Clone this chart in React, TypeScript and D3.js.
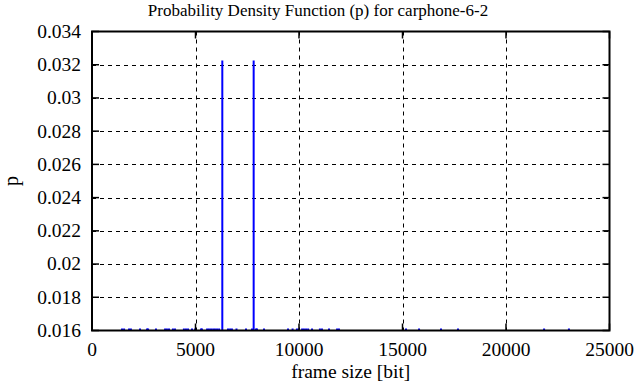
import { useEffect, useRef } from "react";
import * as d3 from "d3";

const TITLE = "Probability Density Function (p) for carphone-6-2";
const X_LABEL = "frame size [bit]";
const Y_LABEL = "p";

const xTicks = [0, 5000, 10000, 15000, 20000, 25000];
const yTicks = [0.016, 0.018, 0.02, 0.022, 0.024, 0.026, 0.028, 0.03, 0.032, 0.034];
const yTickLabels = ["0.016", "0.018", "0.02", "0.022", "0.024", "0.026", "0.028", "0.03", "0.032", "0.034"];

// frame sizes with a visible impulse (bit)
const frameSizes = [
  1450, 1550, 1790, 1880, 2320, 2660, 2710, 3090, 3530, 3620, 3720, 3910, 4010,
  4440, 4540, 4640, 4830, 4980, 5270, 5310, 5560, 5650, 5750, 5850, 5940, 6040,
  6140, 6295, 6570, 6670, 6760, 6980, 7440, 7730, 7810, 7920, 7970, 8310, 9470,
  9690, 9900, 9990, 10150, 10240, 10340, 10440, 10630, 11010, 11110, 11450,
  11840, 11930, 15170, 15800, 16860, 17680, 21840, 23040,
];
// probability per frame size
const pValues = [
  0.01612, 0.01612, 0.01612, 0.01612, 0.01612, 0.01612, 0.01612, 0.01612, 0.01612, 0.01612, 0.01612, 0.01612, 0.01612,
  0.01612, 0.01612, 0.01612, 0.01612, 0.01612, 0.01612, 0.01612, 0.01612, 0.01612, 0.01612, 0.01612, 0.01612, 0.01612,
  0.01612, 0.03225, 0.01612, 0.01612, 0.01612, 0.01612, 0.01612, 0.01612, 0.03225, 0.01612, 0.01612, 0.01612, 0.01612,
  0.01612, 0.01612, 0.01612, 0.01612, 0.01612, 0.01612, 0.01612, 0.01612, 0.01612, 0.01612, 0.01612,
  0.01612, 0.01612, 0.01612, 0.01612, 0.01612, 0.01612, 0.01612, 0.01612,
];

export default function App() {
  const ref = useRef<SVGSVGElement>(null);

  useEffect(() => {
    if (!ref.current) return;
    const width = 636;
    const height = 387;
    const m = { left: 92, right: 609.5, top: 31.5, bottom: 330.5 };
    const font = "'Liberation Serif', 'Times New Roman', serif";

    const svg = d3.select(ref.current);
    svg.selectAll("*").remove();

    const x = d3.scaleLinear().domain([0, 25000]).range([m.left, m.right]);
    const y = d3.scaleLinear().domain([0.016, 0.034]).range([m.bottom, m.top]);

    svg.append("rect").attr("width", width).attr("height", height).attr("fill", "#fff");

    // Grid
    const grid = svg.append("g").attr("stroke", "#000").attr("stroke-width", 1).attr("stroke-dasharray", "4,4");
    xTicks.slice(1, -1).forEach((t) => {
      grid.append("line")
        .attr("x1", Math.round(x(t)) + 0.5).attr("x2", Math.round(x(t)) + 0.5)
        .attr("y1", m.top).attr("y2", m.bottom);
    });
    yTicks.slice(1, -1).forEach((t) => {
      grid.append("line")
        .attr("x1", m.left).attr("x2", m.right)
        .attr("y1", Math.round(y(t)) + 0.5).attr("y2", Math.round(y(t)) + 0.5);
    });

    // Impulses
    svg.append("clipPath").attr("id", "plot-clip")
      .append("rect")
      .attr("x", m.left).attr("y", m.top)
      .attr("width", m.right - m.left).attr("height", m.bottom - m.top);

    svg.append("g").attr("clip-path", "url(#plot-clip)")
      .selectAll("line")
      .data(frameSizes.map((f, i) => ({ f, p: pValues[i] })))
      .enter()
      .append("line")
      .attr("x1", (d) => x(d.f)).attr("x2", (d) => x(d.f))
      .attr("y1", y(0.016)).attr("y2", (d) => y(d.p))
      .attr("stroke", "#0000ff")
      .attr("stroke-width", 2);

    // Ticks (inward, mirrored)
    const ticks = svg.append("g").attr("stroke", "#000").attr("stroke-width", 1.5);
    const tl = 7;
    xTicks.forEach((t) => {
      const px = x(t);
      ticks.append("line").attr("x1", px).attr("x2", px).attr("y1", m.bottom).attr("y2", m.bottom - tl);
      ticks.append("line").attr("x1", px).attr("x2", px).attr("y1", m.top).attr("y2", m.top + tl);
    });
    yTicks.forEach((t) => {
      const py = y(t);
      ticks.append("line").attr("x1", m.left).attr("x2", m.left + tl).attr("y1", py).attr("y2", py);
      ticks.append("line").attr("x1", m.right).attr("x2", m.right - tl).attr("y1", py).attr("y2", py);
    });

    // Frame
    svg.append("rect")
      .attr("x", m.left).attr("y", m.top)
      .attr("width", m.right - m.left).attr("height", m.bottom - m.top)
      .attr("fill", "none").attr("stroke", "#000").attr("stroke-width", 2);

    // Tick labels
    xTicks.forEach((t) => {
      svg.append("text").attr("x", x(t)).attr("y", 356).attr("text-anchor", "middle")
        .attr("font-family", font).attr("font-size", 19.5).attr("fill", "#000")
        .text(String(t));
    });
    yTicks.forEach((t, i) => {
      svg.append("text").attr("x", 81).attr("y", y(t)).attr("dy", "0.33em")
        .attr("text-anchor", "end")
        .attr("font-family", font).attr("font-size", 19.5).attr("fill", "#000")
        .text(yTickLabels[i]);
    });

    // Titles
    svg.append("text").attr("x", 318).attr("y", 15.5).attr("text-anchor", "middle")
      .attr("font-family", font).attr("font-size", 17).text(TITLE);
    svg.append("text").attr("x", (m.left + m.right) / 2).attr("y", 378).attr("text-anchor", "middle")
      .attr("font-family", font).attr("font-size", 19.5).text(X_LABEL);
    svg.append("text")
      .attr("transform", `translate(18,${(m.top + m.bottom) / 2}) rotate(-90)`)
      .attr("text-anchor", "middle")
      .attr("font-family", font).attr("font-size", 20).text(Y_LABEL);
  }, []);

  return (
    <svg ref={ref} width={636} height={387}
      style={{ position: "absolute", left: 0, top: 0, display: "block" }} />
  );
}
